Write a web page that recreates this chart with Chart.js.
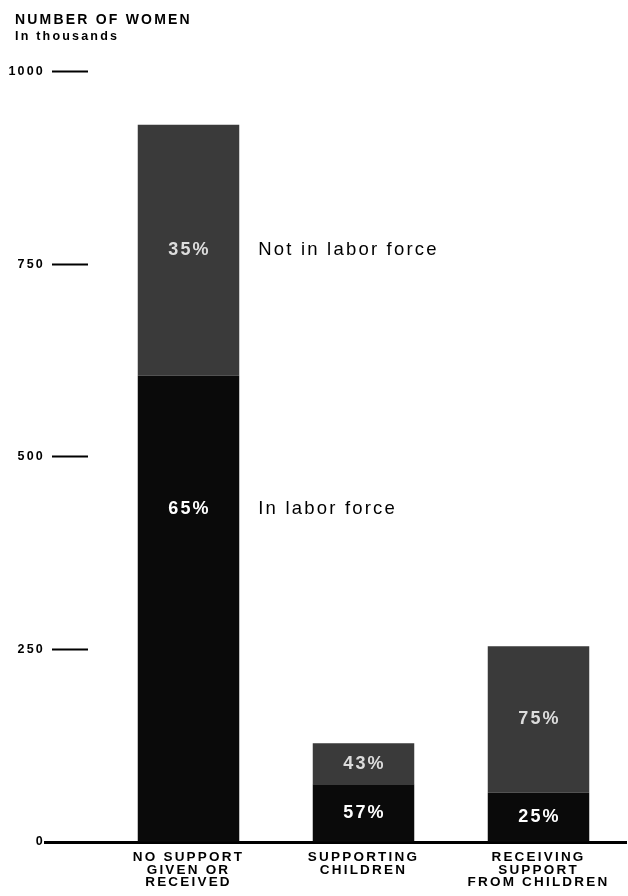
<!DOCTYPE html>
<html><head><meta charset="utf-8">
<script src="https://cdn.jsdelivr.net/npm/chart.js@4/dist/chart.umd.min.js"></script>
<style>html,body{margin:0;padding:0;background:#fff}#wrap{width:628px;height:896px;position:relative}</style>
</head><body><div id="wrap"><canvas id="c" width="628" height="896"></canvas></div>
<script>
// ---- data ----
const categories = [['NO SUPPORT','GIVEN OR','RECEIVED'],['SUPPORTING','CHILDREN'],['RECEIVING','SUPPORT','FROM CHILDREN']];
const seriesNames = ['In labor force','Not in labor force'];
const inLaborForce = [605, 75, 64];
const notInLaborForce = [326, 53, 190];
const pctInLabor = ['65%','57%','25%'];
const pctNotInLabor = ['35%','43%','75%'];
const yTicks = [0, 250, 500, 750, 1000];
const yTickLabels = ['0', '250', '500', '750', '1000'];
const titleText = 'NUMBER OF WOMEN';
const subtitleText = 'In thousands';

// ---- presentation ----
const FONT = "'Liberation Sans', Arial, Helvetica, sans-serif";
const SPACING = '2.2px';
const pctLabels = [pctInLabor, pctNotInLabor];
const pctLabelValueOverride = {'0-0': 432}; // label of first bar's lower segment sits beside its series name
const pctColors = ['#ffffff', '#dcdcdc'];

const spacingPlugin = {
  id: 'spacing',
  afterLayout(chart) { chart.scales.y.left = 0; }, // let y tick labels use the full left margin
  beforeDraw(chart) { chart.ctx.letterSpacing = SPACING; }
};

const labelPlugin = {
  id: 'barLabels',
  afterDatasetsDraw(chart) {
    const ctx = chart.ctx;
    const ys = chart.scales.y;
    ctx.save();
    ctx.letterSpacing = SPACING;
    ctx.textBaseline = 'middle';
    chart.data.datasets.forEach((ds, di) => {
      const meta = chart.getDatasetMeta(di);
      meta.data.forEach((bar, j) => {
        const p = bar.getProps(['x', 'y', 'base', 'width'], true);
        let yy = (p.y + p.base) / 2;
        const key = di + '-' + j;
        if (pctLabelValueOverride[key] !== undefined) yy = ys.getPixelForValue(pctLabelValueOverride[key]);
        ctx.font = 'bold 18px ' + FONT;
        ctx.fillStyle = pctColors[di];
        ctx.textAlign = 'center';
        ctx.fillText(pctLabels[di][j], p.x + 1, yy);
        if (j === 0) {
          ctx.font = '18.5px ' + FONT;
          ctx.fillStyle = '#000';
          ctx.textAlign = 'left';
          ctx.fillText(seriesNames[di], p.x + p.width / 2 + 19, yy);
        }
      });
    });
    ctx.restore();
  }
};

new Chart(document.getElementById('c'), {
  type: 'bar',
  data: {
    labels: categories,
    datasets: [
      {label: seriesNames[0], data: inLaborForce, backgroundColor: '#0a0a0a', borderWidth: 0, barPercentage: 0.58, categoryPercentage: 1.0},
      {label: seriesNames[1], data: notInLaborForce, backgroundColor: '#3a3a3a', borderWidth: 0, barPercentage: 0.58, categoryPercentage: 1.0}
    ]
  },
  options: {
    responsive: false,
    animation: false,
    devicePixelRatio: 1,
    layout: {padding: {top: 12, left: 15, right: 2, bottom: 0}},
    plugins: {
      legend: {display: false},
      tooltip: {enabled: false},
      title: {display: true, text: titleText, align: 'start', color: '#000',
        font: {family: FONT, size: 14, weight: 'bold', lineHeight: 1.15}, padding: {top: 0, bottom: 1}},
      subtitle: {display: true, text: subtitleText, align: 'start', color: '#000',
        font: {family: FONT, size: 12.5, weight: 'bold', lineHeight: 1.15}, padding: {top: 0, bottom: 28}}
    },
    scales: {
      x: {
        stacked: true,
        grid: {display: true, drawOnChartArea: false, drawTicks: false},
        border: {display: true, color: '#000', width: 3},
        ticks: {color: '#000', font: {family: FONT, size: 13.5, weight: 'bold', lineHeight: 0.93}, padding: 9, maxRotation: 0, autoSkip: false},
        afterFit(s) { s.height = 54; }
      },
      y: {
        stacked: true,
        min: 0, max: 1000,
        afterBuildTicks(s) { s.ticks = yTicks.map(v => ({value: v})); },
        grid: {
          drawOnChartArea: false, drawTicks: true, tickLength: 61, tickColor: '#000',
          tickWidth: c => (c.tick && c.tick.value === 0) ? 3 : 2,
          tickBorderDash: c => (c.tick && c.tick.value === 0) ? [57, 4] : [36, 25],
          tickBorderDashOffset: c => (c.tick && c.tick.value === 0) ? 57 : 49
        },
        border: {display: false},
        ticks: {
          color: '#000', font: {family: FONT, size: 12.5, weight: 'bold'}, padding: -5,
          callback: (v) => yTickLabels[yTicks.indexOf(v)]
        },
        afterFit(s) { s.width = 86; }
      }
    }
  },
  plugins: [spacingPlugin, labelPlugin]
});
</script>
</body></html>
